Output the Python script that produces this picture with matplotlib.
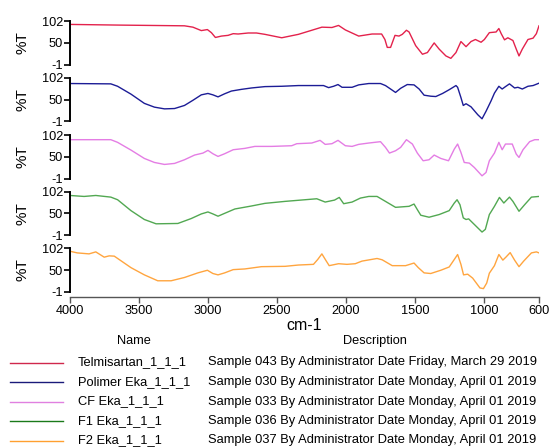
import matplotlib
matplotlib.use("Agg")
import matplotlib.pyplot as plt

plt.rcParams['font.family'] = ['Liberation Sans', 'DejaVu Sans']

# Wavenumbers (cm-1) and %T for each FTIR spectrum
telmi_wn = [4000, 3643, 3170, 3109, 3048, 3004, 2975, 2946, 2902, 2854, 2817, 2781, 2708, 2648,
            2587, 2465, 2344, 2247, 2174, 2101, 2053, 2004, 1907, 1810, 1741, 1717, 1700, 1676,
            1644, 1615, 1591, 1561, 1542, 1494, 1445, 1409, 1360, 1324, 1275, 1239, 1202, 1166,
            1129, 1093, 1061, 1020, 996, 960, 911, 891, 874, 850, 826, 789, 765, 745, 721, 680,
            643, 619, 600]
telmi_t = [93.9, 92.3, 90.6, 87.4, 79.3, 81.7, 74.4, 63.0, 66.3, 68.0, 72.0, 71.2, 73.6, 73.6,
           70.4, 62.3, 70.4, 80.1, 87.4, 86.6, 91.5, 80.9, 66.3, 71.2, 71.2, 58.2, 39.5, 39.5,
           68.0, 66.3, 70.4, 80.1, 76.0, 43.6, 23.3, 27.3, 50.1, 35.5, 19.3, 13.6, 27.3, 53.3,
           41.2, 53.3, 58.2, 51.7, 58.2, 74.4, 76.0, 84.2, 72.0, 57.4, 62.3, 55.8, 35.5, 19.3,
           35.5, 58.2, 61.4, 72.0, 90.6]

polimer_wn = [4000, 3704, 3655, 3558, 3461, 3388, 3315, 3242, 3170, 3109, 3048, 3000, 2964, 2927,
              2879, 2830, 2757, 2684, 2587, 2465, 2344, 2162, 2125, 2089, 2057, 2028, 1955, 1907,
              1834, 1749, 1713, 1676, 1640, 1603, 1555, 1506, 1469, 1433, 1385, 1348, 1299, 1251,
              1202, 1190, 1166, 1149, 1129, 1093, 1044, 1013, 984, 948, 923, 891, 867, 843, 814,
              777, 753, 721, 680, 643, 600]
polimer_t = [88.2, 87.4, 81.7, 63.1, 41.2, 32.3, 28.2, 29.0, 36.3, 48.5, 61.4, 64.7, 61.4, 56.6,
             63.9, 70.4, 74.4, 77.7, 80.9, 81.7, 83.4, 83.4, 78.5, 81.7, 85.8, 79.3, 79.3, 85.0,
             88.2, 88.2, 83.4, 75.2, 67.1, 76.9, 85.8, 85.0, 75.2, 60.6, 58.2, 57.4, 64.7, 73.6,
             83.4, 79.3, 55.0, 36.3, 40.4, 33.1, 14.4, 4.7, 22.5, 46.8, 65.5, 81.7, 75.2, 80.9,
             87.4, 77.7, 79.3, 75.2, 81.7, 83.4, 89.0]

cf_wn = [4000, 3704, 3655, 3558, 3461, 3388, 3315, 3242, 3170, 3097, 3036, 3000, 2964, 2927, 2879,
         2817, 2733, 2660, 2538, 2393, 2356, 2247, 2187, 2150, 2101, 2057, 2004, 1955, 1907, 1834,
         1749, 1713, 1684, 1640, 1603, 1561, 1518, 1482, 1440, 1397, 1360, 1312, 1256, 1214, 1190,
         1166, 1142, 1105, 1069, 1013, 984, 960, 923, 891, 867, 843, 794, 765, 745, 716, 668, 631,
         600]
cf_t = [90.9, 90.9, 84.6, 66.3, 46.5, 37.0, 32.3, 34.7, 43.4, 54.5, 59.2, 65.6, 57.6, 51.3, 57.6,
        67.1, 70.3, 75.0, 75.0, 76.6, 81.4, 83.0, 89.3, 79.8, 81.4, 89.3, 76.6, 75.0, 79.8, 83.0,
        86.2, 72.7, 59.2, 64.7, 72.7, 90.9, 80.6, 59.2, 41.0, 43.4, 54.5, 46.5, 41.0, 68.7, 80.6,
        60.8, 37.0, 35.4, 25.1, 5.3, 13.3, 41.0, 59.2, 84.6, 67.1, 80.6, 80.6, 56.8, 48.9, 67.1,
        86.2, 90.9, 90.9]

f1_wn = [4000, 3898, 3813, 3704, 3655, 3558, 3461, 3376, 3218, 3121, 3048, 3000, 2964, 2927, 2866,
         2805, 2684, 2587, 2441, 2296, 2211, 2150, 2082, 2048, 2016, 1955, 1895, 1834, 1774, 1713,
         1640, 1542, 1506, 1482, 1457, 1397, 1324, 1251, 1214, 1194, 1173, 1149, 1129, 1110, 1069,
         1013, 989, 960, 923, 887, 855, 814, 789, 745, 704, 655, 600]
f1_t = [92.6, 90.3, 92.6, 88.7, 82.5, 56.7, 35.7, 25.5, 26.3, 38.0, 48.9, 53.6, 48.9, 43.5, 52.1,
        60.6, 67.7, 73.9, 78.6, 82.5, 84.8, 77.0, 81.7, 88.0, 73.1, 77.0, 86.4, 90.3, 90.3, 78.6,
        64.5, 66.9, 72.3, 59.1, 45.8, 41.1, 47.4, 56.7, 74.7, 82.5, 70.8, 39.6, 35.7, 37.2, 24.0,
        6.0, 12.3, 47.4, 66.9, 88.0, 74.7, 88.7, 78.6, 55.2, 70.8, 88.7, 90.3]

f2_wn = [4000, 3947, 3862, 3813, 3752, 3716, 3679, 3558, 3461, 3364, 3267, 3170, 3073, 3004, 2964,
         2927, 2879, 2817, 2733, 2612, 2441, 2344, 2235, 2204, 2174, 2145, 2121, 2053, 1992, 1932,
         1883, 1774, 1737, 1664, 1567, 1506, 1475, 1433, 1385, 1312, 1251, 1214, 1190, 1166, 1147,
         1117, 1081, 1028, 1003, 979, 960, 923, 891, 862, 838, 809, 777, 745, 711, 655, 619, 600]
f2_t = [95.0, 91.1, 88.8, 93.5, 81.0, 84.1, 83.4, 56.2, 39.1, 25.1, 25.1, 32.9, 43.8, 50.0, 42.3,
        39.1, 43.8, 51.5, 53.1, 58.5, 59.3, 62.4, 64.0, 75.6, 88.8, 73.3, 60.9, 65.5, 64.0, 65.5,
        71.7, 77.9, 74.8, 60.9, 60.9, 67.1, 56.2, 43.8, 42.3, 50.0, 57.8, 75.6, 87.3, 64.0, 39.1,
        40.7, 31.4, 8.1, 6.5, 19.7, 43.0, 60.9, 87.3, 74.0, 81.7, 91.8, 74.0, 58.5, 71.7, 91.1,
        93.5, 91.1]

names = ["Telmisartan_1_1_1", "Polimer Eka_1_1_1", "CF Eka_1_1_1", "F1 Eka_1_1_1", "F2 Eka_1_1_1"]
descriptions = [
    "Sample 043 By Administrator Date Friday, March 29 2019",
    "Sample 030 By Administrator Date Monday, April 01 2019",
    "Sample 033 By Administrator Date Monday, April 01 2019",
    "Sample 036 By Administrator Date Monday, April 01 2019",
    "Sample 037 By Administrator Date Monday, April 01 2019",
]
colors = ["#e3224c", "#1c1c96", "#e47de4", "#52a852", "#ffa53f"]
legend_colors = ["#d0284c", "#1a1a7a", "#e080e0", "#1a7a1a", "#ffa030"]
x_ticks = [4000, 3500, 3000, 2500, 2000, 1500, 1000, 600]
y_ticks = [-1, 50, 102]

spectra = [(telmi_wn, telmi_t), (polimer_wn, polimer_t), (cf_wn, cf_t),
           (f1_wn, f1_t), (f2_wn, f2_t)]

W, H = 550, 447
fig = plt.figure(figsize=(W / 100, H / 100), dpi=100)

x0, x1 = 70, 539
tops = [21, 77.7, 135, 191.5, 248.3]
ph = 43.5

for i, ((wn, t), c) in enumerate(zip(spectra, colors)):
    top = tops[i]
    ax = fig.add_axes([x0 / W, (H - top - ph) / H, (x1 - x0) / W, ph / H])
    ax.plot(wn, t, color=c, lw=1.0)
    ax.set_xlim(4000, 600)
    ax.set_ylim(-1, 102)
    for s in ("top", "right", "bottom"):
        ax.spines[s].set_visible(False)
    ax.spines["left"].set_linewidth(1.4)
    ax.set_xticks([])
    ax.set_yticks(y_ticks)
    ax.set_yticklabels([str(v) for v in y_ticks], fontsize=9.2)
    ax.tick_params(axis="y", length=4, width=1.2, pad=1)
    ax.set_ylabel("%T", fontsize=11, labelpad=9)
    ax.patch.set_alpha(0)

# shared wavenumber axis
axx = fig.add_axes([x0 / W, (H - 297) / H, (x1 - x0) / W, 0.001])
for s in ("top", "right", "left"):
    axx.spines[s].set_visible(False)
axx.spines["bottom"].set_color("#555555")
axx.spines["bottom"].set_linewidth(1.0)
axx.set_xlim(4000, 600)
axx.set_yticks([])
axx.set_xticks(x_ticks)
axx.set_xticklabels([str(v) for v in x_ticks], fontsize=9.2)
axx.tick_params(axis="x", length=4, width=1.0, color="#555555", pad=2)
axx.patch.set_alpha(0)
fig.text((x0 + x1) / 2 / W, 1 - 325 / H, "cm-1", fontsize=11.5, ha="center", va="center")

# sample table
fig.text(134 / W, 1 - 341 / H, "Name", fontsize=9.2, ha="center", va="center")
fig.text(375 / W, 1 - 341 / H, "Description", fontsize=9.2, ha="center", va="center")
for k, (nm, desc, lc) in enumerate(zip(names, descriptions, legend_colors)):
    y = 1 - (362.5 + 19.5 * k) / H
    fig.add_artist(plt.Line2D([10 / W, 63 / W], [y, y], color=lc, lw=1.0))
    fig.text(78 / W, y, nm, fontsize=9.3, ha="left", va="center")
    fig.text(208 / W, y, desc, fontsize=9.3, ha="left", va="center")

fig.savefig("out.png", dpi=100)
